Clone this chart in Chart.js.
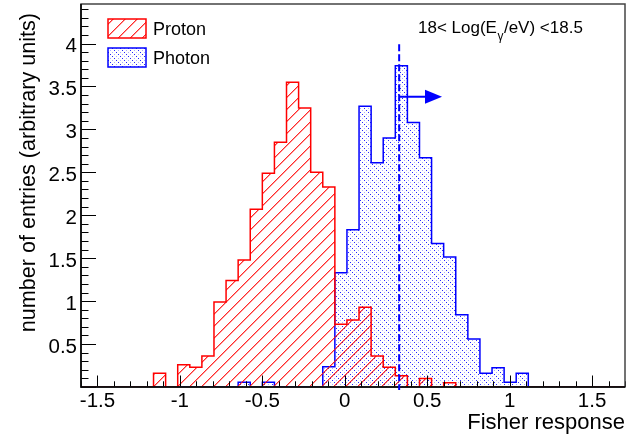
<!DOCTYPE html>
<html><head><meta charset="utf-8">
<script src="https://cdn.jsdelivr.net/npm/chart.js@4.4.1/dist/chart.umd.min.js"></script>
<style>html,body{margin:0;padding:0;background:#fff}canvas{display:block}</style>
</head><body>
<canvas id="c" width="644" height="437"></canvas>
<script>
// ---- data ----
const binLow = -1.6;
const binHigh = 1.7;
const binCount = 45;
const protonValues = [
  0, 0, 0, 0, 0, 0, 0.16, 0, 0.26, 0.23,
  0.36, 0.99, 1.24, 1.48, 2.07, 2.49, 2.85, 3.55, 3.25, 2.50,
  2.33, 0.73, 0.78, 0.93, 0.36, 0.23, 0.13, 0, 0.10, 0,
  0.05, 0, 0, 0, 0, 0, 0, 0, 0, 0,
  0, 0, 0, 0, 0
];
const photonValues = [
  0, 0, 0, 0, 0, 0, 0, 0, 0, 0,
  0, 0, 0, 0.055, 0, 0.055, 0, 0, 0, 0,
  0.236, 1.33, 1.83, 3.27, 2.61, 2.90, 3.74, 3.08, 2.67, 1.67,
  1.515, 0.84, 0.56, 0.16, 0.225, 0.055, 0.16, 0, 0, 0,
  0, 0, 0, 0, 0
];
const seriesLabels = ['Proton', 'Photon'];
const xTickValues = [-1.5, -1, -0.5, 0, 0.5, 1, 1.5];
const yTickValues = [0.5, 1, 1.5, 2, 2.5, 3, 3.5, 4];
const xRange = [-1.6, 1.7];
const yRange = [0, 4.46];
const minorStep = 0.1;
const cutValue = 0.33;
const cutTop = 3.99;
const arrowY = 3.38;
const arrowEnd = 0.59;
const xTitle = 'Fisher response';
const yTitle = 'number of entries (arbitrary units)';
const noteBefore = '18< Log(E';
const noteSub = 'γ';
const noteAfter = '/eV) <18.5';

const FONT = "'Liberation Sans', Arial, Helvetica, sans-serif";

function stepPoints(values) {
  const w = (binHigh - binLow) / binCount;
  const pts = [{x: binLow, y: 0}];
  values.forEach((v, i) => pts.push({x: binLow + i * w, y: v}));
  pts.push({x: binHigh, y: 0});
  return pts;
}

function redHatch() {
  const n = 12;
  const c = document.createElement('canvas'); c.width = n; c.height = n;
  const g = c.getContext('2d');
  for (let i = 0; i < n; i++) {
    g.fillStyle = 'rgba(255,20,20,0.9)';
    g.fillRect(i, n - 1 - i, 1, 1);
    g.fillStyle = 'rgba(255,0,0,0.4)';
    g.fillRect((i + 1) % n, n - 1 - i, 1, 1);
  }
  return g.createPattern(c, 'repeat');
}
function blueDots() {
  const c = document.createElement('canvas'); c.width = 8; c.height = 8;
  const g = c.getContext('2d');
  g.fillStyle = 'rgba(0,0,255,0.85)';
  [[0,0],[2,2],[4,4],[6,6]].forEach(([x,y]) => g.fillRect(x, y, 1, 1));
  g.fillStyle = 'rgba(90,90,255,0.5)';
  [[4,0],[6,2],[0,4],[2,6]].forEach(([x,y]) => g.fillRect(x, y, 1, 1));
  return g.createPattern(c, 'repeat');
}

const protonFill = redHatch();
const photonFill = blueDots();

const decor = {
  id: 'decor',
  afterDatasetsDraw(chart) {
    const {ctx, chartArea: a, scales: {x, y}} = chart;
    ctx.save();
    // ticks (inside the frame)
    ctx.strokeStyle = '#000'; ctx.lineWidth = 1;
    ctx.beginPath();
    const nx = Math.round((xRange[1] - xRange[0]) / minorStep);
    for (let i = 0; i <= nx; i++) {
      const v = xRange[0] + i * minorStep;
      const major = Math.abs(v / 0.5 - Math.round(v / 0.5)) < 1e-6;
      const px = Math.round(x.getPixelForValue(v)) + 0.5;
      ctx.moveTo(px, a.bottom); ctx.lineTo(px, a.bottom - (major ? 11.5 : 5.7));
    }
    const ny = Math.floor((yRange[1] - yRange[0]) / minorStep + 1e-6);
    for (let i = 0; i <= ny; i++) {
      const v = yRange[0] + i * minorStep;
      const major = Math.abs(v / 0.5 - Math.round(v / 0.5)) < 1e-6;
      const py = Math.round(y.getPixelForValue(v)) + 0.5;
      ctx.moveTo(a.left, py); ctx.lineTo(a.left + (major ? 15 : 7.5), py);
    }
    ctx.stroke();
    // frame
    ctx.strokeStyle = '#444'; ctx.lineWidth = 1.5;
    ctx.strokeRect(a.left, a.top, a.right - a.left, a.bottom - a.top);
    ctx.strokeStyle = '#000'; ctx.lineWidth = 1.5;
    ctx.beginPath();
    ctx.moveTo(a.left, a.top); ctx.lineTo(a.left, a.bottom);
    ctx.lineTo(a.right, a.bottom);
    ctx.stroke();

    // cut line
    const cx = x.getPixelForValue(cutValue);
    ctx.strokeStyle = '#0000ff'; ctx.lineWidth = 2;
    ctx.setLineDash([7, 3]);
    ctx.beginPath();
    ctx.moveTo(cx, y.getPixelForValue(cutTop)); ctx.lineTo(cx, a.bottom + 3);
    ctx.stroke();
    ctx.setLineDash([]);
    // arrow
    const ay = y.getPixelForValue(arrowY);
    const ax2 = x.getPixelForValue(arrowEnd);
    ctx.beginPath();
    ctx.moveTo(cx, ay); ctx.lineTo(ax2 - 16, ay);
    ctx.stroke();
    ctx.fillStyle = '#0000ff';
    ctx.beginPath();
    ctx.moveTo(ax2, ay); ctx.lineTo(ax2 - 17, ay - 7); ctx.lineTo(ax2 - 17, ay + 7);
    ctx.closePath(); ctx.fill();

    // y title
    ctx.fillStyle = '#000';
    ctx.font = '21.6px ' + FONT;
    ctx.save();
    ctx.translate(35, a.top + 9);
    ctx.rotate(-Math.PI / 2);
    ctx.textAlign = 'right'; ctx.textBaseline = 'alphabetic';
    ctx.fillText(yTitle, 0, 0);
    ctx.restore();

    // legend
    const ds = chart.data.datasets;
    const boxes = [[108, 19], [108, 48]];
    ds.forEach((d, i) => {
      const [bx, by] = boxes[i];
      ctx.fillStyle = d.backgroundColor;
      ctx.fillRect(bx, by, 38, 19);
      ctx.strokeStyle = d.borderColor; ctx.lineWidth = 1.5;
      ctx.strokeRect(bx, by, 38, 19);
      ctx.fillStyle = '#000';
      ctx.font = '18px ' + FONT;
      ctx.textAlign = 'left'; ctx.textBaseline = 'alphabetic';
      ctx.fillText(d.label, 153, by + 16);
    });

    // annotation text
    ctx.fillStyle = '#000';
    ctx.textAlign = 'left'; ctx.textBaseline = 'alphabetic';
    let tx = 418;
    ctx.font = '17px ' + FONT;
    ctx.fillText(noteBefore, tx, 33.3);
    tx += ctx.measureText(noteBefore).width + 0.5;
    ctx.font = '12px ' + FONT;
    ctx.fillText(noteSub, tx, 40);
    tx += ctx.measureText(noteSub).width + 0.5;
    ctx.font = '17px ' + FONT;
    ctx.fillText(noteAfter, tx, 33.3);
    ctx.restore();
  }
};

new Chart(document.getElementById('c'), {
  type: 'line',
  data: {
    datasets: [
      {label: seriesLabels[0], data: stepPoints(protonValues), stepped: true,
       borderColor: '#ff0000', backgroundColor: protonFill, fill: 'origin',
       borderWidth: 1.5, pointRadius: 0, tension: 0},
      {label: seriesLabels[1], data: stepPoints(photonValues), stepped: true,
       borderColor: '#0000ff', backgroundColor: photonFill, fill: 'origin',
       borderWidth: 1.5, pointRadius: 0, tension: 0}
    ]
  },
  options: {
    responsive: false,
    devicePixelRatio: 1,
    animation: false,
    layout: {padding: {left: 0, right: 19, top: 4, bottom: 0}},
    plugins: {legend: {display: false}, tooltip: {enabled: false}},
    scales: {
      x: {
        type: 'linear', min: xRange[0], max: xRange[1],
        afterBuildTicks: s => { s.ticks = xTickValues.map(v => ({value: v})); },
        afterFit: s => { s.height = 50; s.paddingLeft = 0; s.paddingRight = 0; },
        grid: {display: false, drawTicks: false},
        border: {display: false},
        ticks: {color: '#000', font: {family: FONT, size: 20.5}, padding: 2,
                maxRotation: 0, autoSkip: false, callback: v => String(v)},
        title: {display: true, text: xTitle, align: 'end', color: '#000',
                font: {family: FONT, size: 22}, padding: {top: 0, bottom: 1}}
      },
      y: {
        type: 'linear', min: yRange[0], max: yRange[1],
        afterBuildTicks: s => { s.ticks = yTickValues.map(v => ({value: v})); },
        afterFit: s => { s.width = 81; s.paddingTop = 0; s.paddingBottom = 0; },
        grid: {display: false, drawTicks: false},
        border: {display: false},
        ticks: {color: '#000', font: {family: FONT, size: 20.5}, padding: 4,
                labelOffset: 3, callback: v => String(v)}
      }
    }
  },
  plugins: [decor]
});
</script>
</body></html>
